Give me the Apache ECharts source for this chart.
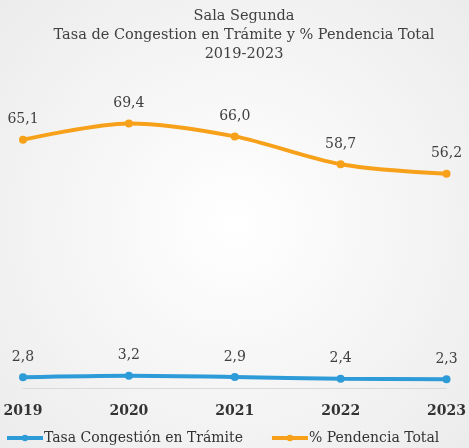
<!DOCTYPE html>
<html><head><meta charset="utf-8">
<script src="https://cdn.jsdelivr.net/npm/echarts@6/dist/echarts.min.js"></script>
<style>html,body{margin:0;padding:0;}#c{width:469px;height:448px;}</style>
</head><body><div id="c"></div>
<script>
const years = ['2019','2020','2021','2022','2023'];
const tasaCongestion = [2.8, 3.2, 2.9, 2.4, 2.3];
const pendenciaTotal = [65.1, 69.4, 66.0, 58.7, 56.2];
const titleLines = ['Sala Segunda', 'Tasa de Congestion en Trámite y % Pendencia Total', '2019-2023'];
const seriesNames = ['Tasa Congestión en Trámite', '% Pendencia Total'];

const serif = '"DejaVu Serif", "Liberation Serif", serif';
const fmt = p => p.value.toFixed(1).replace('.', ',');
const chart = echarts.init(document.getElementById('c'));
chart.setOption({
  backgroundColor: {
    type: 'radial', x: 0.5, y: 0.5, r: 0.75,
    colorStops: [{offset: 0, color: '#ffffff'}, {offset: 1, color: '#ebebeb'}]
  },
  title: {
    text: titleLines.join('\n'), left: 239, top: 2, textAlign: 'center',
    textStyle: {fontFamily: serif, fontSize: 14.5, fontWeight: 'normal', color: '#404040', lineHeight: 19}
  },
  legend: {
    bottom: 3, left: 5, padding: 0, itemWidth: 36, itemHeight: 8, itemGap: 27,
    lineStyle: {width: 4},
    textStyle: {fontFamily: serif, fontSize: 14, color: '#333', padding: [0,0,0,-4]},
    data: seriesNames
  },
  grid: {left: 23, right: 19, top: 83, bottom: 60},
  xAxis: {
    type: 'category', data: years, boundaryGap: false,
    axisLine: {lineStyle: {color: '#d9d9d9', width: 1}}, axisTick: {show: false},
    axisLabel: {fontFamily: serif, fontSize: 14, fontWeight: 'bold', color: '#333', margin: 16}
  },
  yAxis: {type: 'value', min: 0, max: 80, show: false, splitLine: {show: false}},
  series: [
    {name: seriesNames[0], type: 'line', data: tasaCongestion, smooth: 0.3, symbol: 'circle', symbolSize: 8,
     color: '#2E9BD9', lineStyle: {width: 4},
     label: {show: true, position: 'top', distance: 9, formatter: fmt, fontFamily: serif, fontSize: 14, color: '#404040'}},
    {name: seriesNames[1], type: 'line', data: pendenciaTotal, smooth: 0.3, symbol: 'circle', symbolSize: 8,
     color: '#F7A11A', lineStyle: {width: 4},
     label: {show: true, position: 'top', distance: 9, formatter: fmt, fontFamily: serif, fontSize: 14, color: '#404040'}}
  ]
});
</script></body></html>
